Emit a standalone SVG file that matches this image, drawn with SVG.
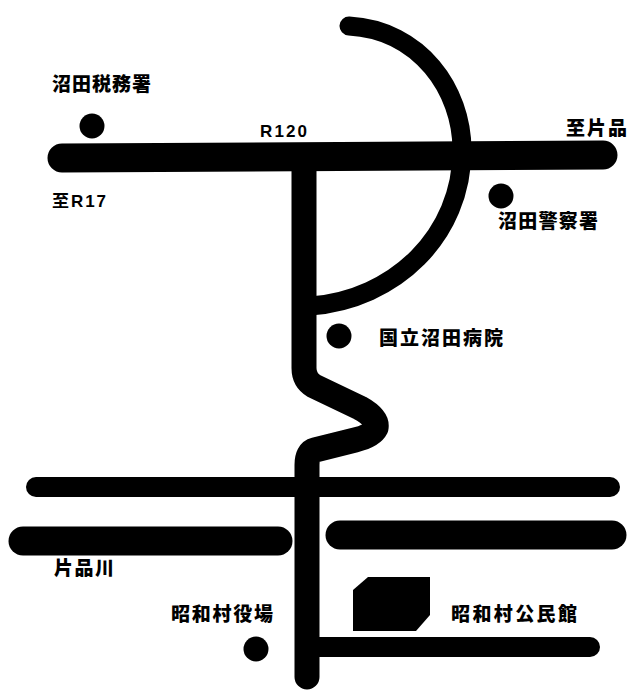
<svg xmlns="http://www.w3.org/2000/svg" width="628" height="691" viewBox="0 0 628 691">
<style>
.r{fill:none;stroke:#000;stroke-linecap:round;stroke-linejoin:round}
.t{font-family:"Noto Sans CJK JP","Liberation Sans",sans-serif;font-size:19px;font-weight:900;fill:#000}
.l{font-family:"Liberation Sans","Noto Sans CJK JP",sans-serif;font-size:17px;font-weight:700;fill:#000}
.d{fill:#000}
</style>
<rect width="628" height="691" fill="#fff"/>
<g id="connectors">
<path class="r" stroke-width="29" d="M62 158L603 155"/>
<path class="r" stroke-width="19" d="M349 26C420 30 462 90 462 150C462 235 395 300 310 306"/>
<path class="r" stroke-width="25" d="M304 165V368Q304 380 314 386L360 408Q378 418 376 428Q372 436 355 440L315 450Q307 452 307 465V677"/>
<path class="r" stroke-width="20" d="M36 487H610"/>
<path class="r" stroke-width="29" d="M23 541H278"/>
<path class="r" stroke-width="29" d="M340 535H612"/>
<path class="r" stroke-width="20" d="M312 647H590"/>
</g>
<g id="n1"><circle class="d" cx="92" cy="126" r="12.5"/><text class="t" x="52" y="91" textLength="99">沼田税務署</text></g>
<g id="n2"><circle class="d" cx="501" cy="196" r="12.5"/><text class="t" x="498" y="228" textLength="100">沼田警察署</text></g>
<g id="n3"><circle class="d" cx="339" cy="336" r="12.5"/><text class="t" x="379" y="345" textLength="124">国立沼田病院</text></g>
<g id="n4"><circle class="d" cx="256" cy="649" r="12.5"/><text class="t" x="171" y="621" textLength="102">昭和村役場</text></g>
<g id="n5"><path class="d" d="M368 577H430V615L416 631H353V590Z"/><text class="t" x="451" y="621" textLength="126">昭和村公民館</text></g>
<text class="l" x="260" y="137" textLength="47">R120</text>
<text class="t" x="566" y="135" textLength="61">至片品</text>
<text class="l" x="52" y="207" textLength="54">至R17</text>
<text class="t" x="54" y="575" textLength="60">片品川</text>
</svg>
